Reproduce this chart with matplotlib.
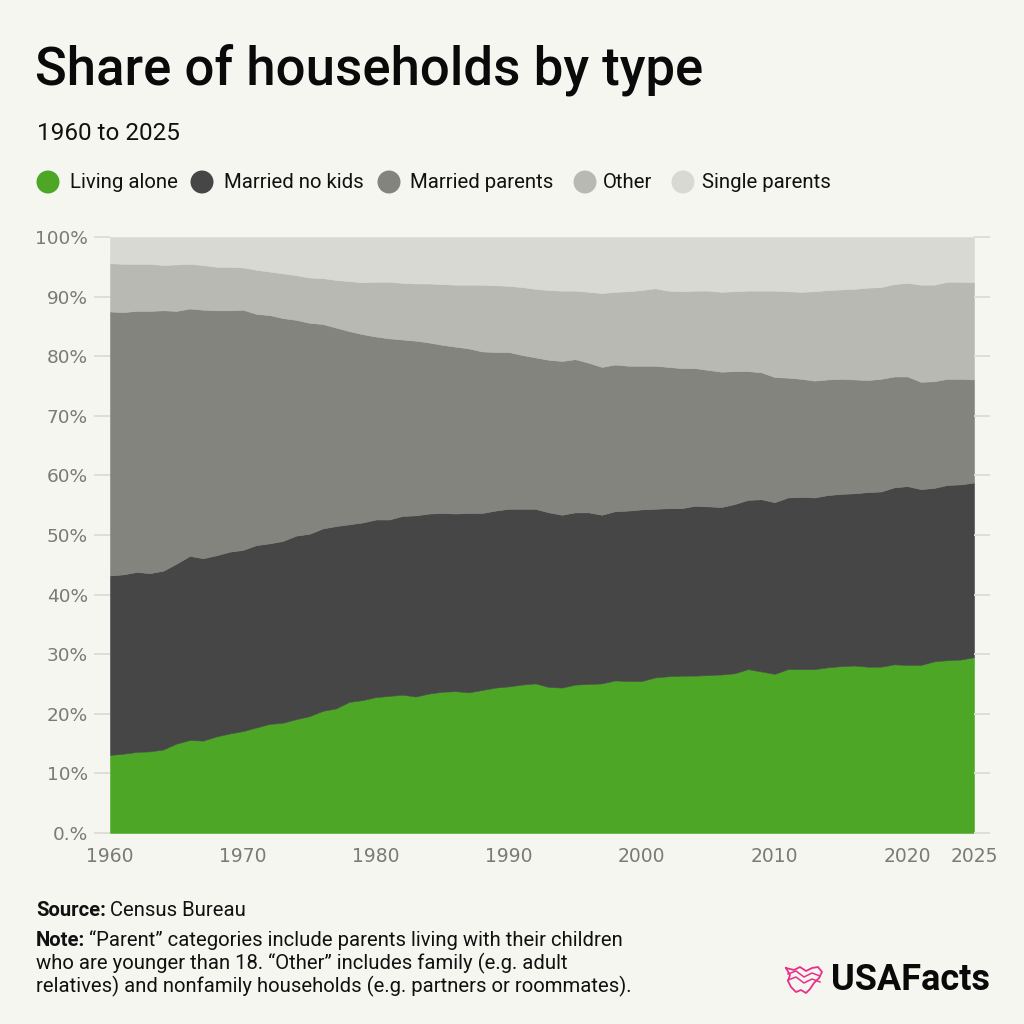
import matplotlib
matplotlib.use("Agg")
import matplotlib.pyplot as plt
from matplotlib.patches import Circle

# ---------------- data (shares of households, %) ----------------
years = list(range(1960, 2026))

living_alone = [13.1, 13.3, 13.6, 13.7, 14.0, 15.0, 15.6, 15.5, 16.2, 16.7,
                17.1, 17.7, 18.3, 18.5, 19.1, 19.6, 20.5, 20.9, 22.0, 22.3,
                22.8, 23.0, 23.2, 22.9, 23.4, 23.7, 23.8, 23.6, 24.0, 24.4,
                24.6, 24.9, 25.1, 24.5, 24.4, 24.9, 25.0, 25.1, 25.6, 25.5,
                25.5, 26.1, 26.3, 26.4, 26.4, 26.5, 26.6, 26.8, 27.5, 27.1,
                26.7, 27.5, 27.5, 27.5, 27.8, 28.0, 28.1, 27.9, 27.9, 28.3,
                28.2, 28.2, 28.8, 29.0, 29.1, 29.5]

married_no_kids = [30.1, 30.1, 30.2, 29.9, 30.0, 30.2, 30.9, 30.6, 30.4, 30.5,
                   30.4, 30.6, 30.3, 30.5, 30.8, 30.6, 30.6, 30.6, 29.8, 29.8,
                   29.8, 29.6, 30.0, 30.4, 30.2, 30.0, 29.8, 30.1, 29.7, 29.7,
                   29.8, 29.5, 29.3, 29.3, 29.0, 28.9, 28.8, 28.3, 28.4, 28.6,
                   28.8, 28.3, 28.2, 28.1, 28.5, 28.3, 28.1, 28.4, 28.4, 28.9,
                   28.8, 28.8, 28.9, 28.8, 28.9, 28.9, 28.9, 29.3, 29.4, 29.7,
                   30.0, 29.5, 29.1, 29.4, 29.4, 29.3]

married_parents = [44.3, 44.0, 43.8, 44.0, 43.7, 42.4, 41.5, 41.7, 41.1, 40.5,
                   40.3, 38.8, 38.3, 37.4, 36.2, 35.4, 34.3, 33.3, 32.4, 31.6,
                   30.7, 30.4, 29.6, 29.3, 28.7, 28.2, 28.0, 27.6, 27.1, 26.6,
                   26.3, 25.8, 25.4, 25.6, 25.8, 25.7, 25.1, 24.8, 24.6, 24.3,
                   24.1, 24.0, 23.7, 23.5, 23.1, 22.9, 22.7, 22.3, 21.6, 21.3,
                   21.0, 20.1, 19.8, 19.6, 19.4, 19.3, 19.1, 18.8, 18.9, 18.6,
                   18.4, 18.0, 17.9, 17.8, 17.7, 17.3]

other = [8.1, 8.1, 7.9, 7.9, 7.6, 7.8, 7.5, 7.5, 7.3, 7.3,
         7.1, 7.4, 7.3, 7.5, 7.5, 7.6, 7.7, 8.0, 8.4, 8.7,
         9.2, 9.5, 9.5, 9.6, 9.9, 10.2, 10.4, 10.7, 11.2, 11.2,
         11.1, 11.4, 11.5, 11.7, 11.8, 11.5, 11.9, 12.4, 12.2, 12.5,
         12.7, 13.0, 12.8, 12.9, 13.0, 13.3, 13.4, 13.4, 13.5, 13.7,
         14.5, 14.5, 14.6, 15.0, 15.0, 15.0, 15.2, 15.5, 15.4, 15.5,
         15.7, 16.3, 16.2, 16.3, 16.3, 16.3]

single_parents = [4.4, 4.5, 4.5, 4.5, 4.7, 4.6, 4.5, 4.7, 5.0, 5.0,
                  5.1, 5.5, 5.8, 6.1, 6.4, 6.8, 6.9, 7.2, 7.4, 7.6,
                  7.5, 7.5, 7.7, 7.8, 7.8, 7.9, 8.0, 8.0, 8.0, 8.1,
                  8.2, 8.4, 8.7, 8.9, 9.0, 9.0, 9.2, 9.4, 9.2, 9.1,
                  8.9, 8.6, 9.0, 9.1, 9.0, 9.0, 9.2, 9.1, 9.0, 9.0,
                  9.0, 9.1, 9.2, 9.1, 8.9, 8.8, 8.7, 8.5, 8.4, 7.9,
                  7.7, 8.0, 8.0, 7.5, 7.5, 7.6]

series_names = ["Living alone", "Married no kids", "Married parents", "Other", "Single parents"]
x_ticks = [1960, 1970, 1980, 1990, 2000, 2010, 2020, 2025]
y_ticks = [0, 10, 20, 30, 40, 50, 60, 70, 80, 90, 100]
y_tick_labels = ["0.%", "10%", "20%", "30%", "40%", "50%", "60%", "70%", "80%", "90%", "100%"]

# ---------------- style ----------------
BG = "#f6f6f1"
COLORS = ["#4da626", "#464646", "#84847f", "#b9b9b3", "#d9d9d4"]
TICK_COLOR = "#7b7b76"
GRID_COLOR = "#deded9"
FONT = ["Roboto", "DejaVu Sans"]
TICK_FONT = ["DejaVu Sans"]

W = H = 1024
fig = plt.figure(figsize=(W / 100, H / 100), dpi=100, facecolor=BG)

def fx(px):
    return px / W

def fy(py):
    return 1 - py / H

ax = fig.add_axes([fx(110), fy(833), fx(974) - fx(110), fy(237) - fy(833)])
ax.set_facecolor(BG)
ax.stackplot(years, living_alone, married_no_kids, married_parents, other, single_parents,
             colors=COLORS, linewidth=0.4, edgecolor="face")
ax.set_xlim(1960, 2025)
ax.set_ylim(0, 100)
for s in ax.spines.values():
    s.set_visible(False)

ax.set_yticks(y_ticks)
ax.set_yticklabels(y_tick_labels, family=TICK_FONT, fontsize=13.3, color=TICK_COLOR)
ax.tick_params(axis="y", left=True, right=True, labelright=False, length=11.5,
               width=1.4, color=GRID_COLOR, pad=4.5)
ax.set_xticks(x_ticks)
ax.set_xticklabels([str(v) for v in x_ticks], family=TICK_FONT, fontsize=13.5, color=TICK_COLOR)
ax.tick_params(axis="x", length=0, pad=10)

# ---------------- header ----------------
fig.text(fx(35), fy(70), "Share of households by type", family=FONT, fontsize=38,
         fontweight="medium", color="#0a0a0a", va="center", ha="left")
fig.text(fx(37), fy(133), "1960 to 2025", family=FONT, fontsize=17.5,
         color="#111111", va="center", ha="left")

legend_circle_x = [48, 202, 389, 585, 683]
legend_text_x = [70, 224, 410, 603, 702]
ly = 182
for name, col, cx, tx in zip(series_names, COLORS, legend_circle_x, legend_text_x):
    circ = Circle((fx(cx), fy(ly)), 11.5 / W, transform=fig.transFigure,
                  facecolor=col, edgecolor="none")
    fig.patches.append(circ)
    fig.text(fx(tx), fy(ly), name, family=FONT, fontsize=14.7, color="#111111",
             va="center", ha="left")

# ---------------- footer ----------------
fig.canvas.draw()
renderer = fig.canvas.get_renderer()
FOOT = 14.6

def label_line(x, y, bold, rest):
    t = fig.text(fx(x), fy(y), bold, family=FONT, fontsize=FOOT, fontweight="bold",
                 color="#111111", va="center", ha="left")
    bb = t.get_window_extent(renderer)
    fig.text(bb.x1 / W + 4 / W, fy(y), rest, family=FONT, fontsize=FOOT,
             color="#111111", va="center", ha="left")

label_line(36, 910, "Source:", "Census Bureau")
label_line(36, 940, "Note:", "\u201cParent\u201d categories include parents living with their children")
fig.text(fx(36), fy(963), "who are younger than 18. \u201cOther\u201d includes family (e.g. adult",
         family=FONT, fontsize=FOOT, color="#111111", va="center", ha="left")
fig.text(fx(36), fy(986), "relatives) and nonfamily households (e.g. partners or roommates).",
         family=FONT, fontsize=FOOT, color="#111111", va="center", ha="left")

# logo
fig.text(fx(831), fy(980), "USAFacts", family=FONT, fontsize=26, fontweight="bold",
         color="#0a0a0a", va="center", ha="left")
pink = "#e8308a"
icon_x = [786, 794, 800, 806, 812, 818, 822, 819, 814, 810, 806, 801, 796, 791, 788, 790, 786]
icon_y = [968, 970, 967, 971, 968, 967, 972, 978, 983, 989, 993, 990, 992, 987, 981, 975, 968]
fig.lines.append(plt.Line2D([fx(v) for v in icon_x], [fy(v) for v in icon_y],
                            transform=fig.transFigure, color=pink, linewidth=1.3))
for off in (0, 6):
    fig.lines.append(plt.Line2D([fx(788), fx(796), fx(804), fx(812), fx(820)],
                                [fy(974 + off), fy(971 + off), fy(977 + off), fy(973 + off), fy(976 + off)],
                                transform=fig.transFigure, color=pink, linewidth=1.1))

fig.savefig("out.png", dpi=100, facecolor=BG)
